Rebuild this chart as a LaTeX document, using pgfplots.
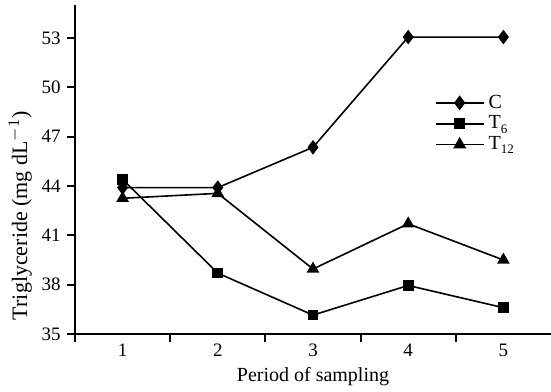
\documentclass[border=0pt]{standalone}
\usepackage{pgfplots}
\pgfplotsset{compat=1.18}
\usepackage{fontspec}
\setmainfont{Liberation Serif}
\newcommand{\sub}[1]{\raisebox{-0.45ex}{\fontsize{6.5}{7}\selectfont #1}}
\begin{document}
\fontsize{9}{11}\selectfont
\begin{tikzpicture}
\begin{axis}[
  scale only axis, width=238pt, height=164.5pt,
  xmin=0.5, xmax=5.5, ymin=35, ymax=55,
  axis x line*=bottom, axis y line*=left,
  axis line style={-, line width=1pt},
  xtick={0.5,1.5,2.5,3.5,4.5}, xticklabels={},
  extra x ticks={1,2,3,4,5},
  extra x tick style={major tick length=0pt},
  extra x tick labels={1,2,3,4,5},
  ytick={35,38,41,44,47,50,53},
  tick align=outside, major tick length=4pt,
  tick style={line width=1pt, black},
  /pgf/number format/assume math mode=true,
  ticklabel style={font=\fontsize{9.5}{11}\selectfont},
  xticklabel style={yshift=-2pt},
  xlabel={Period of sampling},
  ylabel={Triglyceride (mg dL$^{-1}$)},
  every axis x label/.style={at={(rel axis cs:0.5,-0.131)}, anchor=center, font=\fontsize{10}{12}\selectfont},
  every axis y label/.style={at={(rel axis cs:-0.115,0.36)}, anchor=center, rotate=90, font=\fontsize{11}{13}\selectfont},
  legend style={draw=none, fill=none, at={(rel axis cs:0.755,0.74)}, anchor=north west, inner sep=0pt, row sep=-1.5pt, font=\fontsize{10}{12}\selectfont},
  legend cell align=left,
  legend image code/.code={\draw[mark repeat=2, mark phase=2, line width=0.9pt, #1] plot coordinates {(0pt,0pt)(12pt,0pt)(24pt,0pt)};},
  every axis plot/.append style={black, line width=0.8pt},
]
\addplot[mark=diamond*, mark size=3pt] coordinates {(1,43.9)(2,43.9)(3,46.35)(4,53.05)(5,53.05)};
\addlegendentry{C}
\addplot[mark=square*, mark size=2.25pt] coordinates {(1,44.4)(2,38.7)(3,36.15)(4,37.95)(5,36.6)};
\addlegendentry{T\sub{6}}
\addplot[mark=triangle*, mark size=2.9pt] coordinates {(1,43.25)(2,43.55)(3,38.95)(4,41.7)(5,39.5)};
\addlegendentry{T\sub{12}}
\end{axis}
\pgfresetboundingbox
\path ([xshift=-37.5pt,yshift=-28.5pt]current axis.south west) rectangle ([yshift=2.5pt]current axis.north east);
\end{tikzpicture}
\end{document}
